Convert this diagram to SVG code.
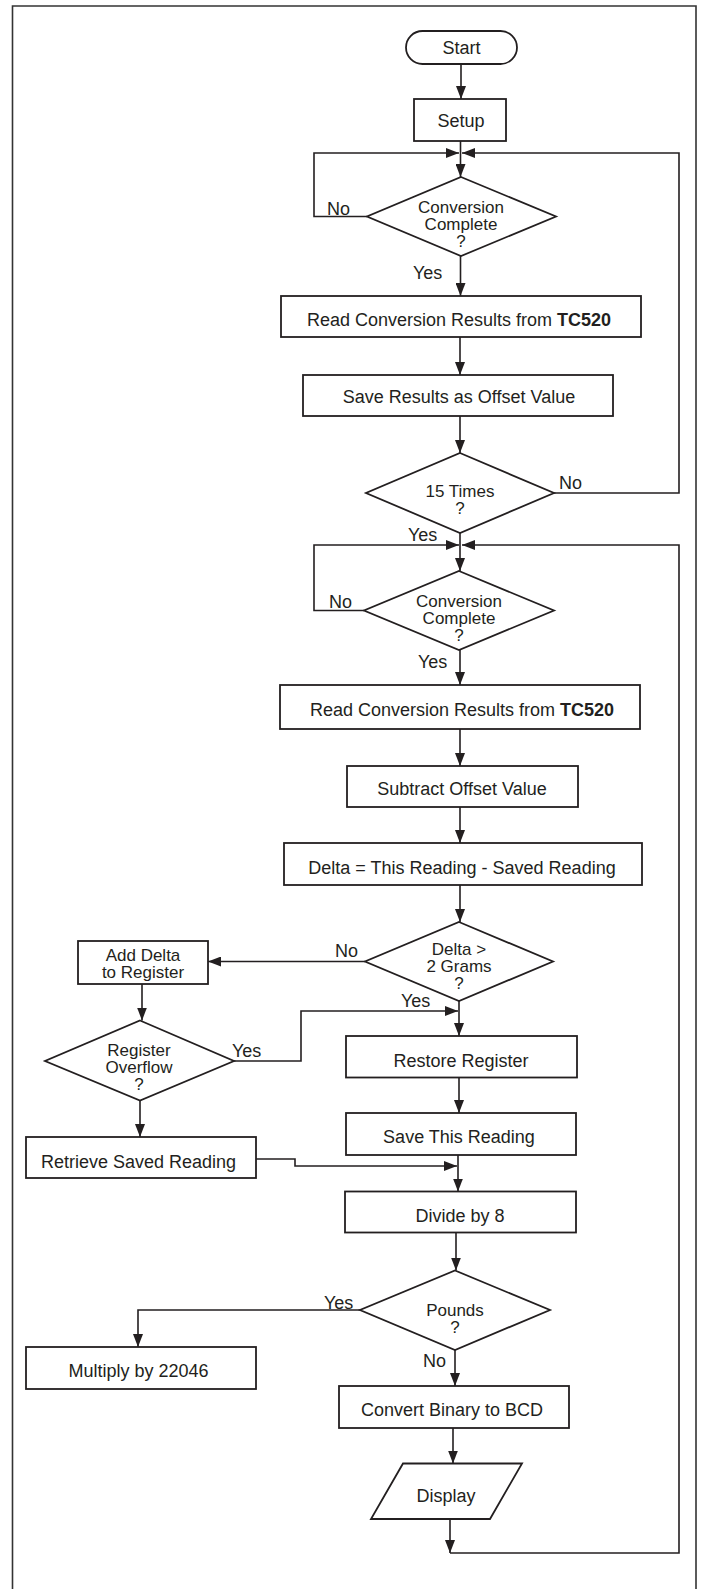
<svg xmlns="http://www.w3.org/2000/svg" width="701" height="1589" viewBox="0 0 701 1589">
<style>
.n{fill:#fff;stroke:#231f20;stroke-width:1.8}
.c{fill:none;stroke:#231f20;stroke-width:1.6}
.t{font-family:"Liberation Sans",Arial,sans-serif;font-size:18px;fill:#231f20;text-anchor:middle}
.m{font-family:"Liberation Sans",Arial,sans-serif;font-size:17px;fill:#231f20;text-anchor:middle}
.l{font-family:"Liberation Sans",Arial,sans-serif;font-size:18px;fill:#231f20}
.b{font-weight:bold}
</style>
<defs>
<marker id="ah" viewBox="0 0 13 10" markerWidth="13" markerHeight="10" refX="13" refY="5" orient="auto" markerUnits="userSpaceOnUse">
<path d="M0,0 L13,5 L0,10 z" fill="#231f20"/>
</marker>
</defs>
<rect width="701" height="1589" fill="#fff"/>
<path d="M12.5,1595 V6 H696 V1595" fill="none" stroke="#333" stroke-width="1.6"/>

<g id="connectors">
<path class="c" d="M461,64 V99" marker-end="url(#ah)"/>
<path class="c" d="M460.5,141 V177" marker-end="url(#ah)"/>
<path class="c" d="M367,216.5 H314 V153 H459" marker-end="url(#ah)"/>
<path class="c" d="M554,493 H679 V153 H462" marker-end="url(#ah)"/>
<path class="c" d="M460.5,256 V296" marker-end="url(#ah)"/>
<path class="c" d="M460,337 V375" marker-end="url(#ah)"/>
<path class="c" d="M460,416 V453" marker-end="url(#ah)"/>
<path class="c" d="M460,533 V571" marker-end="url(#ah)"/>
<path class="c" d="M364,610.5 H314 V545 H459" marker-end="url(#ah)"/>
<path class="c" d="M450,1519 V1553" marker-end="url(#ah)"/>
<path class="c" d="M450,1553 H679 V545 H462" marker-end="url(#ah)"/>
<path class="c" d="M460,650 V685" marker-end="url(#ah)"/>
<path class="c" d="M460,729 V766" marker-end="url(#ah)"/>
<path class="c" d="M460,807 V843" marker-end="url(#ah)"/>
<path class="c" d="M460,885 V922" marker-end="url(#ah)"/>
<path class="c" d="M365,961.5 H208" marker-end="url(#ah)"/>
<path class="c" d="M142,984 V1020.5" marker-end="url(#ah)"/>
<path class="c" d="M234,1061 H301 V1011 H458" marker-end="url(#ah)"/>
<path class="c" d="M459,1001 V1036" marker-end="url(#ah)"/>
<path class="c" d="M459,1077.5 V1113" marker-end="url(#ah)"/>
<path class="c" d="M140,1100.5 V1137" marker-end="url(#ah)"/>
<path class="c" d="M458,1155 V1191.5" marker-end="url(#ah)"/>
<path class="c" d="M256,1159 H295 V1166 H457" marker-end="url(#ah)"/>
<path class="c" d="M456,1232.5 V1270.5" marker-end="url(#ah)"/>
<path class="c" d="M360,1310 H138 V1347" marker-end="url(#ah)"/>
<path class="c" d="M455,1350 V1386" marker-end="url(#ah)"/>
<path class="c" d="M453,1428 V1463.5" marker-end="url(#ah)"/>
</g>

<g id="labels">
<text class="l" x="327" y="215">No</text>
<text class="l" x="413" y="279">Yes</text>
<text class="l" x="559" y="489">No</text>
<text class="l" x="408" y="540.5">Yes</text>
<text class="l" x="329" y="607.5">No</text>
<text class="l" x="418" y="668">Yes</text>
<text class="l" x="335" y="957">No</text>
<text class="l" x="401" y="1006.5">Yes</text>
<text class="l" x="232" y="1057">Yes</text>
<text class="l" x="324" y="1308.5">Yes</text>
<text class="l" x="423" y="1366.5">No</text>
</g>

<g id="start"><rect class="n" x="406" y="31" width="111" height="33" rx="16.5"/><text class="t" x="461.5" y="54">Start</text></g>
<g id="setup"><rect class="n" x="414" y="99" width="92" height="42"/><text class="t" x="461" y="126.5">Setup</text></g>
<g id="conv1"><polygon class="n" points="461,177 556,216.5 461,256 367,216.5"/><text class="m" x="461" y="212.5">Conversion</text><text class="m" x="461" y="229.5">Complete</text><text class="m" x="461" y="246.5">?</text></g>
<g id="read1"><rect class="n" x="281" y="296" width="360" height="41"/><text class="t" x="459" y="325.5">Read Conversion Results from <tspan class="b">TC520</tspan></text></g>
<g id="saveoffset"><rect class="n" x="303" y="375" width="310" height="41"/><text class="t" x="459" y="402.5">Save Results as Offset Value</text></g>
<g id="times15"><polygon class="n" points="460,453 554,493 460,533 366,493"/><text class="m" x="460" y="497">15 Times</text><text class="m" x="460" y="514">?</text></g>
<g id="conv2"><polygon class="n" points="459,571 554,610.5 459,650 364,610.5"/><text class="m" x="459" y="606.5">Conversion</text><text class="m" x="459" y="623.5">Complete</text><text class="m" x="459" y="640.5">?</text></g>
<g id="read2"><rect class="n" x="280" y="685" width="360" height="44"/><text class="t" x="462" y="715.5">Read Conversion Results from <tspan class="b">TC520</tspan></text></g>
<g id="subtract"><rect class="n" x="347" y="766" width="231" height="41"/><text class="t" x="462" y="794.5">Subtract Offset Value</text></g>
<g id="delta"><rect class="n" x="284" y="843" width="358" height="42"/><text class="t" x="462" y="873.5">Delta = This Reading - Saved Reading</text></g>
<g id="deltagrams"><polygon class="n" points="459,922 553,961.5 459,1001 365,961.5"/><text class="m" x="459" y="955">Delta &gt;</text><text class="m" x="459" y="972">2 Grams</text><text class="m" x="459" y="989">?</text></g>
<g id="adddelta"><rect class="n" x="78" y="941" width="130" height="43"/><text class="m" x="143" y="961">Add Delta</text><text class="m" x="143" y="978">to Register</text></g>
<g id="overflow"><polygon class="n" points="140,1020.5 234,1061 140,1100.5 45,1061"/><text class="m" x="139" y="1056">Register</text><text class="m" x="139" y="1073">Overflow</text><text class="m" x="139" y="1090">?</text></g>
<g id="restore"><rect class="n" x="346" y="1036" width="231" height="41.5"/><text class="t" x="461" y="1066.5">Restore Register</text></g>
<g id="savethis"><rect class="n" x="346" y="1113" width="230" height="42"/><text class="t" x="459" y="1143">Save This Reading</text></g>
<g id="retrieve"><rect class="n" x="26" y="1137" width="230" height="41"/><text class="t" x="138.5" y="1168">Retrieve Saved Reading</text></g>
<g id="divide"><rect class="n" x="345" y="1191.5" width="231" height="41"/><text class="t" x="460" y="1221.5">Divide by 8</text></g>
<g id="pounds"><polygon class="n" points="455,1270.5 550,1310 455,1350 360,1310"/><text class="m" x="455" y="1316">Pounds</text><text class="m" x="455" y="1333">?</text></g>
<g id="multiply"><rect class="n" x="26" y="1347" width="230" height="42"/><text class="t" x="138.5" y="1377">Multiply by 22046</text></g>
<g id="convert"><rect class="n" x="339" y="1386" width="230" height="42"/><text class="t" x="452" y="1415.5">Convert Binary to BCD</text></g>
<g id="display"><polygon class="n" points="403,1463.5 522,1463.5 490,1519 371,1519"/><text class="t" x="446" y="1501.5">Display</text></g>
</svg>
